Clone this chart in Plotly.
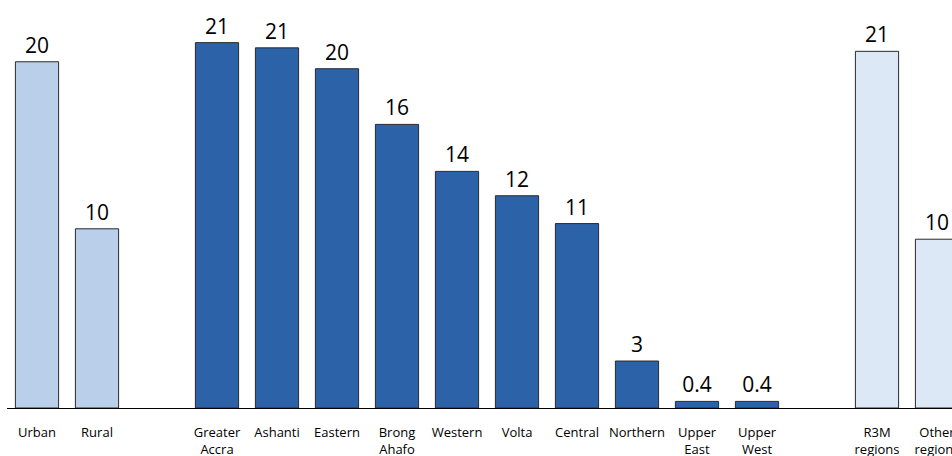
import plotly.graph_objects as go

# categories in chart order (blank strings are spacers between groups)
categories = ["Urban", "Rural", " ",
              "Greater<br>Accra", "Ashanti", "Eastern", "Brong<br>Ahafo", "Western",
              "Volta", "Central", "Northern", "Upper<br>East", "Upper<br>West", "  ",
              "R3M<br>regions", "Other<br>regions"]

area_cats = ["Urban", "Rural"]
area_vals = [19.9, 10.3]
area_labels = ["20", "10"]

region_cats = ["Greater<br>Accra", "Ashanti", "Eastern", "Brong<br>Ahafo", "Western",
               "Volta", "Central", "Northern", "Upper<br>East", "Upper<br>West"]
region_vals = [21.0, 20.7, 19.5, 16.3, 13.6, 12.2, 10.6, 2.7, 0.38, 0.38]
region_labels = ["21", "21", "20", "16", "14", "12", "11", "3", "0.4", "0.4"]

group_cats = ["R3M<br>regions", "Other<br>regions"]
group_vals = [20.5, 9.7]
group_labels = ["21", "10"]

label_font = dict(family="Open Sans", size=21, color="black")
line = dict(color="#2a2a2a", width=1)

fig = go.Figure()
for cats, vals, labels, color in [
    (area_cats, area_vals, area_labels, "#b9cfea"),
    (region_cats, region_vals, region_labels, "#2c62a8"),
    (group_cats, group_vals, group_labels, "#dce8f5"),
]:
    fig.add_trace(go.Bar(
        x=cats, y=vals, text=labels, textposition="outside",
        textfont=label_font, cliponaxis=False, width=0.72,
        marker=dict(color=color, line=line), showlegend=False,
    ))

fig.update_layout(
    width=952, height=456,
    margin=dict(l=7, r=0, t=0, b=48),
    plot_bgcolor="white", paper_bgcolor="white",
    barmode="overlay",
    font=dict(family="Open Sans", size=13, color="black"),
    xaxis=dict(
        type="category", categoryorder="array", categoryarray=categories,
        range=[-0.5, 15.25], showline=True, linecolor="black", linewidth=1,
        ticks="outside", ticklen=12, tickcolor="rgba(0,0,0,0)",
        showgrid=False, tickangle=0, automargin=False,
    ),
    yaxis=dict(range=[0, 23.45], visible=False, showgrid=False, zeroline=False),
)

# drop the page's default body margin so the figure sits at the top-left corner
fig.write_html("out.html", config={"displayModeBar": False},
               post_script="document.body.style.margin='0';")
